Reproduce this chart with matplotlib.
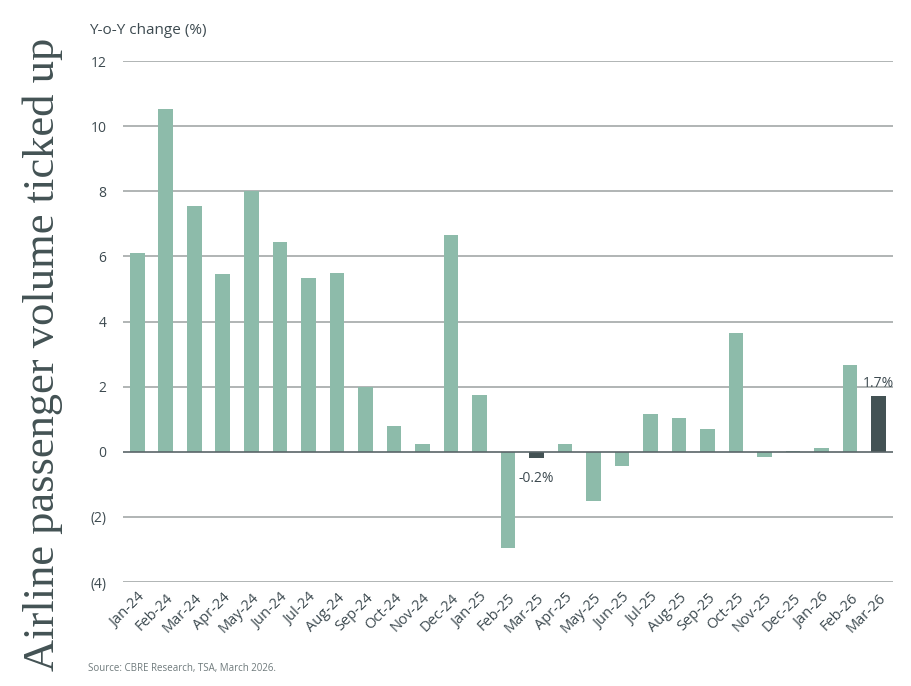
import matplotlib
matplotlib.use('Agg')
import matplotlib.pyplot as plt
import numpy as np

# Data
months = ['Jan-24', 'Feb-24', 'Mar-24', 'Apr-24', 'May-24', 'Jun-24', 'Jul-24',
          'Aug-24', 'Sep-24', 'Oct-24', 'Nov-24', 'Dec-24', 'Jan-25', 'Feb-25',
          'Mar-25', 'Apr-25', 'May-25', 'Jun-25', 'Jul-25', 'Aug-25', 'Sep-25',
          'Oct-25', 'Nov-25', 'Dec-25', 'Jan-26', 'Feb-26', 'Mar-26']
yoy_change = [6.12, 10.54, 7.55, 5.45, 8.0, 6.45, 5.35,
              5.5, 2.0, 0.8, 0.25, 6.65, 1.75, -2.95,
              -0.2, 0.25, -1.5, -0.45, 1.15, 1.05, 0.7,
              3.65, -0.15, 0.03, 0.12, 2.65, 1.7]
highlight = ['Mar-25', 'Mar-26']
y_ticks = [-4, -2, 0, 2, 4, 6, 8, 10, 12]
y_tick_labels = ['(4)', '(2)', '0', '2', '4', '6', '8', '10', '12']

GREEN = '#8dbbaa'
DARK = '#435254'
TEXT = '#3d4a50'

plt.rcParams['font.family'] = ['Open Sans', 'DejaVu Sans']

fig = plt.figure(figsize=(9.12, 6.86), dpi=100)
ax = fig.add_axes([0.135, 0.1516, 0.844, 0.7594])

x = np.arange(len(months))
colors = [DARK if m in highlight else GREEN for m in months]
ax.bar(x, yoy_change, width=0.52, color=colors, zorder=3)

ax.set_xlim(-0.5, len(months) - 0.5)
ax.set_ylim(-4, 12)
ax.set_yticks(y_ticks)
ax.set_yticklabels(y_tick_labels, fontsize=10, color=TEXT)
ax.set_xticks(x)
ax.set_xticklabels(months, rotation=45, ha='right', rotation_mode='anchor',
                   fontsize=10.5, color=TEXT)
ax.tick_params(axis='both', length=0)
ax.tick_params(axis='y', pad=12)
ax.tick_params(axis='x', pad=6)

for t in y_ticks:
    col = '#5a6568' if t == 0 else '#a3a8a8'
    ax.axhline(t, color=col, linewidth=1.2, zorder=2 if t != 0 else 4)

for s in ax.spines.values():
    s.set_visible(False)

# value labels for highlighted bars
i = months.index('Mar-25')
ax.annotate(f'{yoy_change[i]:.1f}%', (x[i], yoy_change[i]), xytext=(0, -9),
            textcoords='offset points', ha='center', va='top', fontsize=10, color=TEXT)
i = months.index('Mar-26')
ax.annotate(f'{yoy_change[i]:.1f}%', (x[i], yoy_change[i]), xytext=(0, 4),
            textcoords='offset points', ha='center', va='bottom', fontsize=10, color=TEXT)

fig.text(0.098, 0.955, 'Y-o-Y change (%)', fontsize=11, color=TEXT, ha='left', va='center')
fig.text(0.097, 0.026, 'Source: CBRE Research, TSA, March 2026.', fontsize=7,
         color='#6f7a7c', ha='left', va='center')
fig.text(0.047, 0.483, 'Airline passenger volume ticked up', rotation=90,
         fontsize=32, family=['Liberation Serif', 'DejaVu Serif'], color=DARK,
         ha='center', va='center')

fig.savefig('out.png', dpi=100)
